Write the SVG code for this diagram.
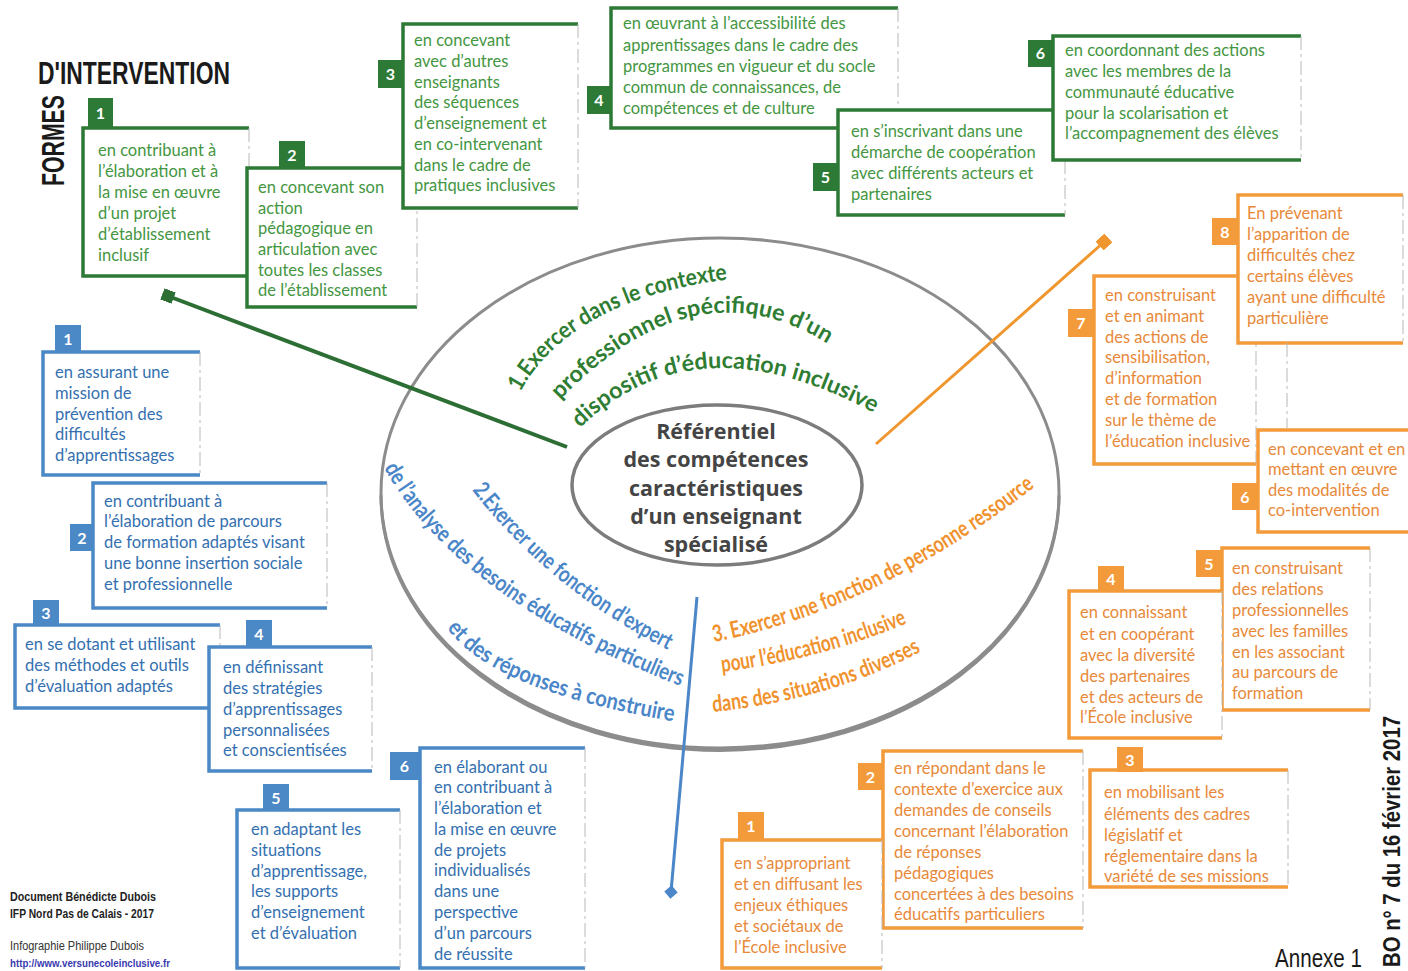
<svg xmlns="http://www.w3.org/2000/svg" width="1408" height="971" viewBox="0 0 1408 971">
<style>
.bx{fill:#fff;stroke:none}
.gb{fill:none;stroke:#2c7a36;stroke-width:3.5}
.bb{fill:none;stroke:#4a88c6;stroke-width:3.5}
.ob{fill:none;stroke:#f39a3b;stroke-width:3.5}
.re{fill:none;stroke:#b8b8b8;stroke-width:1;stroke-dasharray:14 4 3 4}
.gbg{fill:#2c7a36}.bbg{fill:#4a88c6}.obg{fill:#f39a3b}
.num{fill:#fff;font-family:Lato,"Open Sans",sans-serif;font-weight:700;font-size:16px;text-anchor:middle}
.t{font-family:Lato,"Noto Sans",sans-serif;font-size:16.5px}
.gt{fill:#449642}.bt{fill:#3470b0}.ot{fill:#e8893a}
.cv{font-family:Lato,"Open Sans",sans-serif;font-weight:700}
</style>
<defs>
<marker id="sqG" viewBox="0 0 10 10" refX="5" refY="5" markerWidth="3" markerHeight="3" orient="auto"><rect width="10" height="10" fill="#2c6e34"/></marker>
<marker id="sqO" viewBox="0 0 10 10" refX="5" refY="5" markerWidth="4" markerHeight="4" orient="auto"><rect width="10" height="10" fill="#f0962f"/></marker>
<marker id="diB" viewBox="0 0 10 10" refX="5" refY="5" markerWidth="4.5" markerHeight="4.5" orient="auto"><path d="M5 0L10 5L5 10L0 5Z" fill="#4a86c8"/></marker>
<path id="p1" d="M 520 392 C 560 320 650 282 770 276"/>
<path id="p2" d="M 560 400 Q 701 254 840 352"/>
<path id="p3" d="M 580 428 Q 695 317 872 412"/>
<path id="p4" d="M 472 490 Q 550 591 672 652"/>
<path id="p5" d="M 384 468 Q 458 599 680 686"/>
<path id="p6" d="M 447 628 Q 490 690 672 721"/>
<path id="p7" d="M 714 642 Q 880 610 1046 478"/>
<path id="p8" d="M 722 672 Q 820 660 910 622"/>
<path id="p9" d="M 713 712 Q 830 700 920 652"/>
</defs>
<rect width="1408" height="971" fill="#fff"/>

<g id="title">
<text x="38" y="84" font-family="'Liberation Sans',sans-serif" font-weight="700" font-size="31" textLength="192" lengthAdjust="spacingAndGlyphs" fill="#1a1a1a">D'INTERVENTION</text>
<text x="64" y="186" transform="rotate(-90 64 186)" font-family="'Liberation Sans',sans-serif" font-weight="700" font-size="31" textLength="91" lengthAdjust="spacingAndGlyphs" fill="#1a1a1a">FORMES</text>
</g>

<g id="center">
<ellipse cx="720" cy="493" rx="339" ry="255" fill="none" stroke="#8c8c8c" stroke-width="3"/>
<path d="M381 494 A339 255 0 0 0 1059 494" fill="none" stroke="#8c8c8c" stroke-width="3" transform="translate(0 1.5)"/>
<ellipse cx="717" cy="485" rx="145" ry="80" fill="#fff" stroke="#7c7c7c" stroke-width="3.5"/>
<g font-family="'Open Sans',Lato,sans-serif" font-weight="700" font-size="21.5" fill="#444" text-anchor="middle">
<text x="716" y="439">Référentiel</text>
<text x="716" y="467">des compétences</text>
<text x="716" y="496">caractéristiques</text>
<text x="716" y="524">d’un enseignant</text>
<text x="716" y="552">spécialisé</text>
</g>
<g class="cv" fill="#2e7d32" font-size="23">
<text><textPath href="#p1" textLength="245" lengthAdjust="spacingAndGlyphs">1.Exercer dans le contexte</textPath></text>
<text><textPath href="#p2" textLength="300" lengthAdjust="spacingAndGlyphs">professionnel spécifique d’un</textPath></text>
<text><textPath href="#p3" textLength="318" lengthAdjust="spacingAndGlyphs">dispositif d’éducation inclusive</textPath></text>
</g>
<g class="cv" fill="#4a86c8" font-size="23">
<text><textPath href="#p4" textLength="255" lengthAdjust="spacingAndGlyphs">2.Exercer une fonction d’expert</textPath></text>
<text><textPath href="#p5" textLength="375" lengthAdjust="spacingAndGlyphs">de l’analyse des besoins éducatifs particuliers</textPath></text>
<text><textPath href="#p6" textLength="250" lengthAdjust="spacingAndGlyphs">et des réponses à construire</textPath></text>
</g>
<g class="cv" fill="#f0922e" font-size="23">
<text><textPath href="#p7" textLength="360" lengthAdjust="spacingAndGlyphs">3. Exercer une fonction de personne ressource</textPath></text>
<text><textPath href="#p8" textLength="192" lengthAdjust="spacingAndGlyphs">pour l’éducation inclusive</textPath></text>
<text><textPath href="#p9" textLength="218" lengthAdjust="spacingAndGlyphs">dans des situations diverses</textPath></text>
</g>
</g>

<g id="connectors">
<line x1="567" y1="447" x2="168" y2="296" stroke="#2c6e34" stroke-width="4" marker-end="url(#sqG)"/>
<line x1="876" y1="444" x2="1104" y2="242" stroke="#f0962f" stroke-width="3" marker-end="url(#sqO)"/>
<line x1="697" y1="597" x2="671" y2="892" stroke="#4a86c8" stroke-width="3" marker-end="url(#diB)"/>
</g>

<!-- GREEN -->
<g id="g1">
<rect class="bx" x="83" y="128" width="166" height="148"/>
<path class="gb" d="M249 128H83V276H249"/><path class="re" d="M249 128V276"/>
<rect class="gbg" x="88" y="98" width="25" height="29"/><text class="num" x="100.5" y="119">1</text>
<g class="t gt"><text x="98" y="156">en contribuant à</text><text x="98" y="177">l’élaboration et à</text><text x="98" y="198">la mise en œuvre</text><text x="98" y="219">d’un projet</text><text x="98" y="240">d’établissement</text><text x="98" y="261">inclusif</text></g>
</g>
<g id="g2">
<rect class="bx" x="247" y="168" width="170" height="139"/>
<path class="gb" d="M417 168H247V307H417"/><path class="re" d="M417 168V307"/>
<rect class="gbg" x="279" y="141" width="26" height="28"/><text class="num" x="292" y="161">2</text>
<g class="t gt"><text x="258" y="193">en concevant son</text><text x="258" y="214">action</text><text x="258" y="234">pédagogique en</text><text x="258" y="255">articulation avec</text><text x="258" y="276">toutes les classes</text><text x="258" y="296">de l’établissement</text></g>
</g>
<g id="g3">
<rect class="bx" x="403" y="24" width="175" height="184"/>
<path class="gb" d="M578 24H403V208H578"/><path class="re" d="M578 24V208"/>
<rect class="gbg" x="378" y="60" width="25" height="28"/><text class="num" x="390.5" y="80">3</text>
<g class="t gt"><text x="414" y="46">en concevant</text><text x="414" y="67">avec d’autres</text><text x="414" y="88">enseignants</text><text x="414" y="108">des séquences</text><text x="414" y="129">d’enseignement et</text><text x="414" y="150">en co-intervenant</text><text x="414" y="171">dans le cadre de</text><text x="414" y="191">pratiques inclusives</text></g>
</g>
<g id="g4">
<rect class="bx" x="611" y="8" width="287" height="120"/>
<path class="gb" d="M898 8H611V128H898"/><path class="re" d="M898 8V128"/>
<rect class="gbg" x="587" y="86" width="24" height="28"/><text class="num" x="599" y="106">4</text>
<g class="t gt"><text x="623" y="29">en œuvrant à l’accessibilité des</text><text x="623" y="51">apprentissages dans le cadre des</text><text x="623" y="72">programmes en vigueur et du socle</text><text x="623" y="93">commun de connaissances, de</text><text x="623" y="114">compétences et de culture</text></g>
</g>
<g id="g5">
<rect class="bx" x="838" y="110" width="227" height="105"/>
<path class="gb" d="M1065 110H838V215H1065"/><path class="re" d="M1065 110V215"/>
<rect class="gbg" x="813" y="163" width="25" height="28"/><text class="num" x="825.5" y="183">5</text>
<g class="t gt"><text x="851" y="137">en s’inscrivant dans une</text><text x="851" y="158">démarche de coopération</text><text x="851" y="179">avec différents acteurs et</text><text x="851" y="200">partenaires</text></g>
</g>
<g id="g6">
<rect class="bx" x="1053" y="36" width="248" height="124"/>
<path class="gb" d="M1301 36H1053V160H1301"/><path class="re" d="M1301 36V160"/>
<rect class="gbg" x="1028" y="40" width="25" height="27"/><text class="num" x="1040.5" y="59">6</text>
<g class="t gt"><text x="1065" y="56">en coordonnant des actions</text><text x="1065" y="77">avec les membres de la</text><text x="1065" y="98">communauté éducative</text><text x="1065" y="119">pour la scolarisation et</text><text x="1065" y="139">l’accompagnement des élèves</text></g>
</g>

<!-- BLUE -->
<g id="b1">
<rect class="bx" x="43" y="352" width="157" height="123"/>
<path class="bb" d="M200 352H43V475H200"/><path class="re" d="M200 352V475"/>
<rect class="bbg" x="55" y="325" width="26" height="28"/><text class="num" x="68" y="345">1</text>
<g class="t bt"><text x="55" y="378">en assurant une</text><text x="55" y="399">mission de</text><text x="55" y="420">prévention des</text><text x="55" y="440">difficultés</text><text x="55" y="461">d’apprentissages</text></g>
</g>
<g id="b2">
<rect class="bx" x="93" y="483" width="234" height="125"/>
<path class="bb" d="M327 483H93V608H327"/><path class="re" d="M327 483V608"/>
<rect class="bbg" x="70" y="524" width="24" height="27"/><text class="num" x="82" y="544">2</text>
<g class="t bt"><text x="104" y="507">en contribuant à</text><text x="104" y="527">l’élaboration de parcours</text><text x="104" y="548">de formation adaptés visant</text><text x="104" y="569">une bonne insertion sociale</text><text x="104" y="590">et professionnelle</text></g>
</g>
<g id="b3">
<rect class="bx" x="15" y="625" width="205" height="83"/>
<path class="bb" d="M220 625H15V708H220"/><path class="re" d="M220 625V708"/>
<rect class="bbg" x="33" y="600" width="26" height="26"/><text class="num" x="46" y="619">3</text>
<g class="t bt"><text x="25" y="650">en se dotant et utilisant</text><text x="25" y="671">des méthodes et outils</text><text x="25" y="692">d’évaluation adaptés</text></g>
</g>
<g id="b4">
<rect class="bx" x="209" y="647" width="163" height="124"/>
<path class="bb" d="M372 647H209V771H372"/><path class="re" d="M372 647V771"/>
<rect class="bbg" x="246" y="620" width="26" height="28"/><text class="num" x="259" y="640">4</text>
<g class="t bt"><text x="223" y="673">en définissant</text><text x="223" y="694">des stratégies</text><text x="223" y="715">d’apprentissages</text><text x="223" y="736">personnalisées</text><text x="223" y="756">et conscientisées</text></g>
</g>
<g id="b5">
<rect class="bx" x="237" y="810" width="163" height="158"/>
<path class="bb" d="M400 810H237V968H400"/><path class="re" d="M400 810V968"/>
<rect class="bbg" x="263" y="784" width="26" height="27"/><text class="num" x="276" y="804">5</text>
<g class="t bt"><text x="251" y="835">en adaptant les</text><text x="251" y="856">situations</text><text x="251" y="877">d’apprentissage,</text><text x="251" y="897">les supports</text><text x="251" y="918">d’enseignement</text><text x="251" y="939">et d’évaluation</text></g>
</g>
<g id="b6">
<rect class="bx" x="420" y="748" width="165" height="220"/>
<path class="bb" d="M585 748H420V968H585"/><path class="re" d="M585 748V968"/>
<rect class="bbg" x="390" y="752" width="29" height="28"/><text class="num" x="404.5" y="772">6</text>
<g class="t bt"><text x="434" y="773">en élaborant ou</text><text x="434" y="793">en contribuant à</text><text x="434" y="814">l’élaboration et</text><text x="434" y="835">la mise en œuvre</text><text x="434" y="856">de projets</text><text x="434" y="876">individualisés</text><text x="434" y="897">dans une</text><text x="434" y="918">perspective</text><text x="434" y="939">d’un parcours</text><text x="434" y="960">de réussite</text></g>
</g>

<!-- ORANGE -->
<g id="o7">
<rect class="bx" x="1094" y="276" width="162" height="188"/>
<path class="ob" d="M1256 276H1094V464H1256"/><path class="re" d="M1256 276V464"/>
<rect class="obg" x="1068" y="309" width="26" height="28"/><text class="num" x="1081" y="329">7</text>
<g class="t ot"><text x="1105" y="301">en construisant</text><text x="1105" y="322">et en animant</text><text x="1105" y="343">des actions de</text><text x="1105" y="363">sensibilisation,</text><text x="1105" y="384">d’information</text><text x="1105" y="405">et de formation</text><text x="1105" y="426">sur le thème de</text><text x="1105" y="447">l’éducation inclusive</text></g>
</g>
<g id="o8">
<rect class="bx" x="1238" y="195" width="165" height="148"/>
<path class="ob" d="M1403 195H1238V343H1403"/><path class="re" d="M1403 195V343"/>
<path class="re" d="M1287 343V428"/>
<rect class="obg" x="1212" y="218" width="26" height="27"/><text class="num" x="1225" y="238">8</text>
<g class="t ot"><text x="1247" y="219">En prévenant</text><text x="1247" y="240">l’apparition de</text><text x="1247" y="261">difficultés chez</text><text x="1247" y="282">certains élèves</text><text x="1247" y="303">ayant une difficulté</text><text x="1247" y="324">particulière</text></g>
</g>
<g id="o6">
<rect class="bx" x="1258" y="430" width="150" height="102"/>
<path class="ob" d="M1410 430H1258V532H1410"/>
<rect class="obg" x="1232" y="483" width="26" height="27"/><text class="num" x="1245" y="503">6</text>
<g class="t ot"><text x="1268" y="455">en concevant et en</text><text x="1268" y="475">mettant en œuvre</text><text x="1268" y="496">des modalités de</text><text x="1268" y="516">co-intervention</text></g>
</g>
<g id="o5">
<rect class="bx" x="1222" y="548" width="148" height="162"/>
<path class="ob" d="M1370 548H1222V710H1370"/><path class="re" d="M1370 548V710"/>
<rect class="obg" x="1196" y="550" width="26" height="27"/><text class="num" x="1209" y="570">5</text>
<g class="t ot"><text x="1232" y="574">en construisant</text><text x="1232" y="595">des relations</text><text x="1232" y="616">professionnelles</text><text x="1232" y="637">avec les familles</text><text x="1232" y="658">en les associant</text><text x="1232" y="678">au parcours de</text><text x="1232" y="699">formation</text></g>
</g>
<g id="o4">
<rect class="bx" x="1069" y="591" width="153" height="147"/>
<path class="ob" d="M1222 591H1069V738H1222"/><path class="re" d="M1222 591V738"/>
<rect class="obg" x="1098" y="566" width="26" height="26"/><text class="num" x="1111" y="585">4</text>
<g class="t ot"><text x="1080" y="618">en connaissant</text><text x="1080" y="640">et en coopérant</text><text x="1080" y="661">avec la diversité</text><text x="1080" y="682">des partenaires</text><text x="1080" y="703">et des acteurs de</text><text x="1080" y="723">l’École inclusive</text></g>
</g>
<g id="o3">
<rect class="bx" x="1090" y="770" width="198" height="117"/>
<path class="ob" d="M1288 770H1090V887H1288"/><path class="re" d="M1288 770V887"/>
<rect class="obg" x="1117" y="747" width="26" height="25"/><text class="num" x="1130" y="766">3</text>
<g class="t ot"><text x="1104" y="798">en mobilisant les</text><text x="1104" y="820">éléments des cadres</text><text x="1104" y="841">législatif et</text><text x="1104" y="862">réglementaire dans la</text><text x="1104" y="882">variété de ses missions</text></g>
</g>
<g id="o2">
<rect class="bx" x="883" y="751" width="200" height="177"/>
<path class="ob" d="M1083 751H883V928H1083"/><path class="re" d="M1083 751V928"/>
<rect class="obg" x="858" y="763" width="25" height="27"/><text class="num" x="870.5" y="783">2</text>
<g class="t ot"><text x="894" y="774">en répondant dans le</text><text x="894" y="795">contexte d’exercice aux</text><text x="894" y="816">demandes de conseils</text><text x="894" y="837">concernant l’élaboration</text><text x="894" y="858">de réponses</text><text x="894" y="879">pédagogiques</text><text x="894" y="900">concertées à des besoins</text><text x="894" y="920">éducatifs particuliers</text></g>
</g>
<g id="o1">
<rect class="bx" x="722" y="840" width="160" height="128"/>
<path class="ob" d="M882 840H722V968H882"/><path class="re" d="M882 840V968"/>
<rect class="obg" x="738" y="812" width="26" height="28"/><text class="num" x="751" y="832">1</text>
<g class="t ot"><text x="734" y="869">en s’appropriant</text><text x="734" y="890">et en diffusant les</text><text x="734" y="911">enjeux éthiques</text><text x="734" y="932">et sociétaux de</text><text x="734" y="953">l’École inclusive</text></g>
</g>

<g id="credits" font-family="'Liberation Sans',sans-serif">
<text x="10" y="901" font-size="12" font-weight="700" textLength="146" lengthAdjust="spacingAndGlyphs" fill="#1e1e1e">Document Bénédicte Dubois</text>
<text x="10" y="918" font-size="12" font-weight="700" textLength="144" lengthAdjust="spacingAndGlyphs" fill="#1e1e1e">IFP Nord Pas de Calais - 2017</text>
<text x="10" y="950" font-size="12" textLength="134" lengthAdjust="spacingAndGlyphs" fill="#333">Infographie Philippe Dubois</text>
<text x="10" y="967" font-size="11" font-weight="700" textLength="160" lengthAdjust="spacingAndGlyphs" fill="#3a3ab0">http://www.versunecoleinclusive.fr</text>
</g>
<g id="annex" font-family="'Liberation Sans',sans-serif" fill="#1a1a1a">
<text x="1275" y="967" font-size="26" textLength="87" lengthAdjust="spacingAndGlyphs">Annexe 1</text>
<text x="1400" y="967" transform="rotate(-90 1400 967)" font-size="24" font-weight="700" textLength="251" lengthAdjust="spacingAndGlyphs">BO n° 7 du 16 février 2017</text>
</g>
</svg>
